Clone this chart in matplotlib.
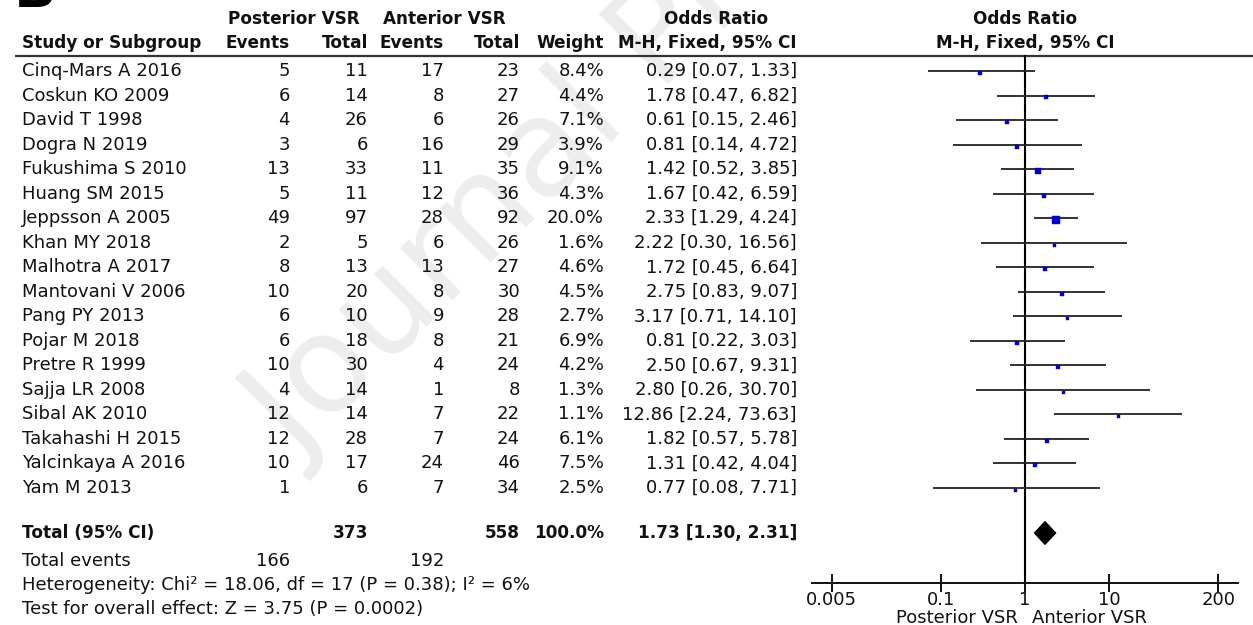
import matplotlib
matplotlib.use("Agg")
import matplotlib.pyplot as plt
import numpy as np

# ---------------- data ----------------
studies = ["Cinq-Mars A 2016", "Coskun KO 2009", "David T 1998", "Dogra N 2019",
           "Fukushima S 2010", "Huang SM 2015", "Jeppsson A 2005", "Khan MY 2018",
           "Malhotra A 2017", "Mantovani V 2006", "Pang PY 2013", "Pojar M 2018",
           "Pretre R 1999", "Sajja LR 2008", "Sibal AK 2010", "Takahashi H 2015",
           "Yalcinkaya A 2016", "Yam M 2013"]
post_events = [5, 6, 4, 3, 13, 5, 49, 2, 8, 10, 6, 6, 10, 4, 12, 12, 10, 1]
post_total = [11, 14, 26, 6, 33, 11, 97, 5, 13, 20, 10, 18, 30, 14, 14, 28, 17, 6]
ant_events = [17, 8, 6, 16, 11, 12, 28, 6, 13, 8, 9, 8, 4, 1, 7, 7, 24, 7]
ant_total = [23, 27, 26, 29, 35, 36, 92, 26, 27, 30, 28, 21, 24, 8, 22, 24, 46, 34]
weights = [8.4, 4.4, 7.1, 3.9, 9.1, 4.3, 20.0, 1.6, 4.6, 4.5, 2.7, 6.9, 4.2, 1.3, 1.1, 6.1, 7.5, 2.5]
or_est = [0.29, 1.78, 0.61, 0.81, 1.42, 1.67, 2.33, 2.22, 1.72, 2.75, 3.17, 0.81, 2.50, 2.80, 12.86, 1.82, 1.31, 0.77]
or_lo = [0.07, 0.47, 0.15, 0.14, 0.52, 0.42, 1.29, 0.30, 0.45, 0.83, 0.71, 0.22, 0.67, 0.26, 2.24, 0.57, 0.42, 0.08]
or_hi = [1.33, 6.82, 2.46, 4.72, 3.85, 6.59, 4.24, 16.56, 6.64, 9.07, 14.10, 3.03, 9.31, 30.70, 73.63, 5.78, 4.04, 7.71]

total_post = 373
total_ant = 558
total_weight = "100.0%"
total_or, total_lo, total_hi = 1.73, 1.30, 2.31
events_post_sum = 166
events_ant_sum = 192
heterogeneity = "Heterogeneity: Chi² = 18.06, df = 17 (P = 0.38); I² = 6%"
overall = "Test for overall effect: Z = 3.75 (P = 0.0002)"
tick_vals = [0.005, 0.1, 1, 10, 200]
tick_labels = ["0.005", "0.1", "1", "10", "200"]

# ---------------- figure ----------------
W, H = 1253, 625
fig = plt.figure(figsize=(W / 100, H / 100), dpi=100)
fig.patch.set_facecolor("white")

bg = fig.add_axes([0, 0, 1, 1])
bg.set_xlim(0, W)
bg.set_ylim(H, 0)
bg.axis("off")

FS = 13
FSB = 12.2
TXT = "#111111"

# watermark
bg.text(298, 462, "Journal Pre-proof", rotation=45, rotation_mode="anchor",
        ha="left", va="baseline", fontsize=98, color="#ededed", zorder=0)

# panel label fragment (cut off at top edge, as in the reference)
bg.text(14, 7, "B", fontsize=40, fontweight="bold", color="black",
        va="baseline", ha="left", clip_on=False)

row0, dy = 71, 24.53
n = len(studies)

# column right edges
c_pe, c_pt, c_ae, c_at, c_w, c_or = 290, 368, 444, 520, 604, 797
x_name = 22

hdr = dict(fontsize=FSB, fontweight="bold", color=TXT, va="center")
bg.text(228, 19, "Posterior VSR", ha="left", **hdr)
bg.text(383, 19, "Anterior VSR", ha="left", **hdr)
bg.text(716, 19, "Odds Ratio", ha="center", **hdr)
bg.text(1025, 19, "Odds Ratio", ha="center", **hdr)
bg.text(x_name, 43, "Study or Subgroup", ha="left", **hdr)
bg.text(c_pe, 43, "Events", ha="right", **hdr)
bg.text(c_pt, 43, "Total", ha="right", **hdr)
bg.text(c_ae, 43, "Events", ha="right", **hdr)
bg.text(c_at, 43, "Total", ha="right", **hdr)
bg.text(c_w, 43, "Weight", ha="right", **hdr)
bg.text(c_or, 43, "M-H, Fixed, 95% CI", ha="right", **hdr)
bg.text(1025, 43, "M-H, Fixed, 95% CI", ha="center", **hdr)
bg.plot([15, W], [55.5, 55.5], color="#333333", lw=1.6, solid_capstyle="butt")

rt = dict(fontsize=FS, color=TXT, va="center")
for i in range(n):
    y = row0 + i * dy
    bg.text(x_name, y, studies[i], ha="left", **rt)
    bg.text(c_pe, y, str(post_events[i]), ha="right", **rt)
    bg.text(c_pt, y, str(post_total[i]), ha="right", **rt)
    bg.text(c_ae, y, str(ant_events[i]), ha="right", **rt)
    bg.text(c_at, y, str(ant_total[i]), ha="right", **rt)
    bg.text(c_w, y, f"{weights[i]:.1f}%", ha="right", **rt)
    bg.text(c_or, y, f"{or_est[i]:.2f} [{or_lo[i]:.2f}, {or_hi[i]:.2f}]", ha="right", **rt)

yt = 533
bt = dict(fontsize=FSB, color=TXT, va="center", fontweight="bold")
bg.text(x_name, yt, "Total (95% CI)", ha="left", **bt)
bg.text(c_pt, yt, str(total_post), ha="right", **bt)
bg.text(c_at, yt, str(total_ant), ha="right", **bt)
bg.text(c_w, yt, total_weight, ha="right", **bt)
bg.text(c_or, yt, f"{total_or:.2f} [{total_lo:.2f}, {total_hi:.2f}]", ha="right", **bt)

bg.text(x_name, 561, "Total events", ha="left", **rt)
bg.text(c_pe, 561, str(events_post_sum), ha="right", **rt)
bg.text(c_ae, 561, str(events_ant_sum), ha="right", **rt)
bg.text(x_name, 585, heterogeneity, ha="left", **rt)
bg.text(x_name, 609, overall, ha="left", **rt)

# ---------------- forest axes ----------------
xl, xr, xone, dec = 812, 1238, 1025, 84.0
ytop, ybot = 55, 583
ax = fig.add_axes([xl / W, 1 - ybot / H, (xr - xl) / W, (ybot - ytop) / H])
ax.set_xscale("log")
ax.set_xlim(10 ** ((xl - xone) / dec), 10 ** ((xr - xone) / dec))
ax.set_ylim((ybot - row0) / dy, (ytop - row0) / dy)
ax.patch.set_alpha(0)
for s in ["top", "left", "right"]:
    ax.spines[s].set_visible(False)
ax.spines["bottom"].set_linewidth(1.4)
ax.spines["bottom"].set_color("#111111")
ax.set_yticks([])
ax.set_xticks(tick_vals)
ax.set_xticklabels(tick_labels)
ax.xaxis.set_minor_locator(matplotlib.ticker.NullLocator())
ax.tick_params(axis="x", direction="inout", length=13, width=1.4, pad=-1,
               labelsize=FS, colors="#111111")

ylim_top = (ytop - row0) / dy
ylim_bot = (ybot - row0) / dy
ax.plot([1, 1], [ylim_bot, ylim_top], color="black", lw=1.5, zorder=2)

ys = np.arange(n)
ax.hlines(ys, or_lo, or_hi, color="#222222", lw=1.3, zorder=3)
for i in range(n):
    side_px = max(3.0, 1.72 * np.sqrt(weights[i]))
    ax.plot(or_est[i], ys[i] + 0.08, marker="s", ms=side_px * 0.72,
            color="#0000cc", mec="#0000cc", mew=0.3, zorder=4)

ytot = (yt - row0) / dy
hh = 0.46
ax.fill([total_lo, total_or, total_hi, total_or],
        [ytot, ytot - hh, ytot, ytot + hh], color="black", zorder=4)

bg.text(1018, 618, "Posterior VSR", ha="right", **rt)
bg.text(1032, 618, "Anterior VSR", ha="left", **rt)

fig.savefig("out.png", dpi=100, facecolor="white")
